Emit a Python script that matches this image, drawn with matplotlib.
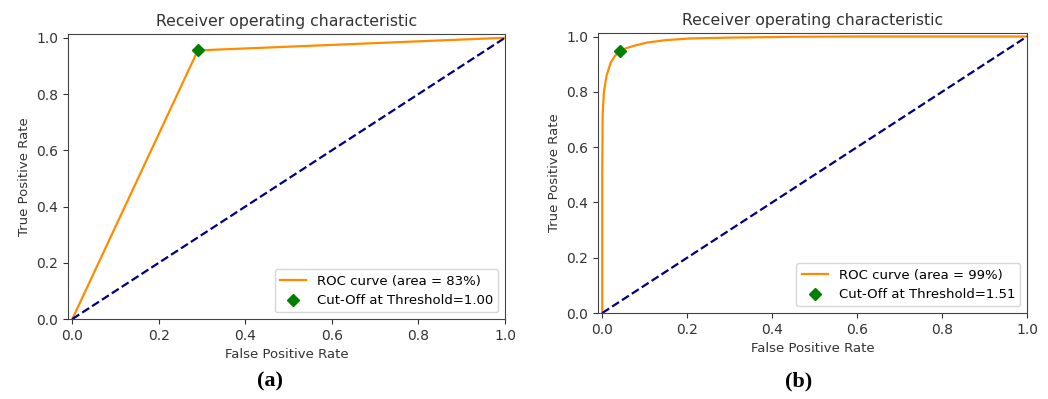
import matplotlib.pyplot as plt

# ROC data for model (a)
fpr_a = [0.0, 0.29, 1.0]
tpr_a = [0.0, 0.955, 1.0]
cut_a = (0.29, 0.955)
label_a = 'ROC curve (area = 83%)'
thr_a = 'Cut-Off at Threshold=1.00'

# ROC data for model (b)
fpr_b = [0.0, 0.0, 0.001, 0.004, 0.01, 0.02, 0.03, 0.041, 0.055, 0.074,
         0.105, 0.15, 0.207, 0.3, 0.45, 0.6, 1.0]
tpr_b = [0.0, 0.5, 0.72, 0.80, 0.857, 0.906, 0.93, 0.946, 0.957, 0.966,
         0.978, 0.987, 0.993, 0.996, 0.999, 1.0, 1.0]
cut_b = (0.041, 0.946)
label_b = 'ROC curve (area = 99%)'
thr_b = 'Cut-Off at Threshold=1.51'

ticks = [0.0, 0.2, 0.4, 0.6, 0.8, 1.0]

fig = plt.figure(figsize=(10.48, 3.99), dpi=100)
ax_a = fig.add_axes([0.0649, 0.2005, 0.417, 0.714])
ax_b = fig.add_axes([0.5706, 0.2155, 0.4094, 0.702])


def roc_panel(ax, fpr, tpr, cut, lab, thr):
    ax.plot(fpr, tpr, color='darkorange', lw=1.6, label=lab)
    ax.plot([0, 1], [0, 1], color='navy', lw=1.6, ls='--')
    ax.plot(cut[0], cut[1], 'D', color='green', ms=6, label=thr)
    ax.set_xlim(-0.01, 1.0)
    ax.set_ylim(0.0, 1.013)
    ax.set_xticks(ticks)
    ax.set_yticks(ticks)
    ax.tick_params(labelsize=10, colors='#333333', labelcolor='#333333')
    for s in ax.spines.values():
        s.set_color('#444444')
    ax.set_xlabel('False Positive Rate', fontsize=9.5, color='#333333')
    ax.set_ylabel('True Positive Rate', fontsize=9.5, color='#333333')
    ax.set_title('Receiver operating characteristic', fontsize=11.3, color='#333333')
    ax.legend(loc='lower right', fontsize=9.5)


roc_panel(ax_a, fpr_a, tpr_a, cut_a, label_a, thr_a)
roc_panel(ax_b, fpr_b, tpr_b, cut_b, label_b, thr_b)

# panel tags below each plot
fig.text(270 / 1048, 1 - 381 / 399, '(a)', ha='center', va='center',
         fontsize=16, fontweight='bold', family='Liberation Serif')
fig.text(799 / 1048, 1 - 381 / 399, '(b)', ha='center', va='center',
         fontsize=16, fontweight='bold', family='Liberation Serif')

fig.savefig('out.png', dpi=100)
